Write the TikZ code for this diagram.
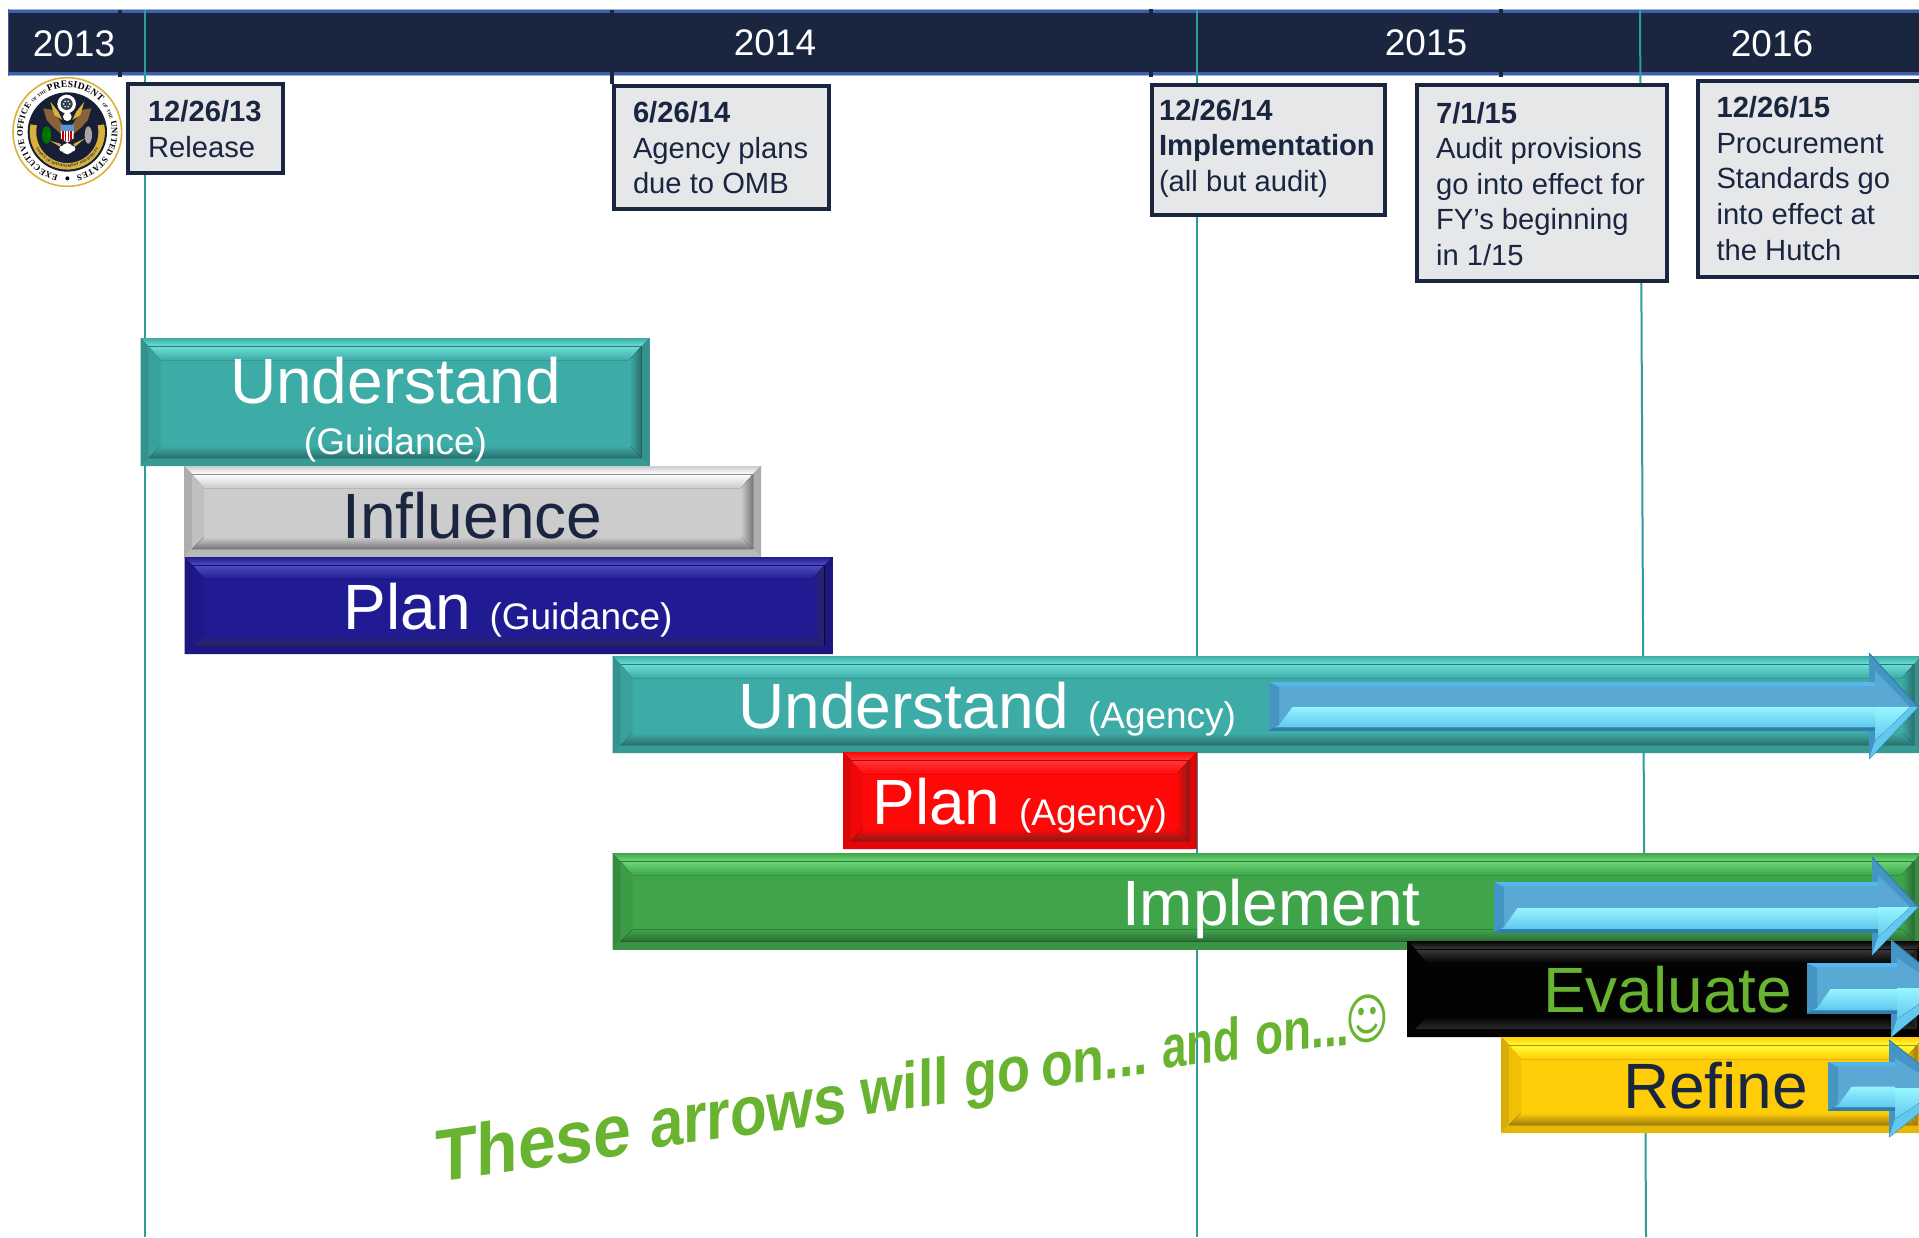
\documentclass[tikz,border=0pt]{standalone}
\usepackage{fontspec}
\setmainfont{Liberation Sans}
\newfontfamily\dejavu{DejaVu Sans}
\newfontfamily\sealfont{Liberation Serif}
\usetikzlibrary{decorations.text}
\definecolor{navy}{HTML}{1A2540}
\definecolor{hdrblue}{HTML}{3F5FA8}
\definecolor{hdrlight}{HTML}{9DB2DE}
\definecolor{tealline}{HTML}{2E9C9C}
\definecolor{boxfill}{HTML}{E6E7E9}
\definecolor{wavegreen}{HTML}{68B32F}
\definecolor{tealB}{HTML}{3DABA6}\definecolor{tealL}{HTML}{6ADFD8}\definecolor{tealD}{HTML}{2A6F6C}
\definecolor{grayB}{HTML}{CCCCCC}\definecolor{grayL}{HTML}{FFFFFF}\definecolor{grayD}{HTML}{777777}
\definecolor{blueB}{HTML}{201B93}\definecolor{blueL}{HTML}{4F4CC4}\definecolor{blueD}{HTML}{2A2560}
\definecolor{redB}{HTML}{FF0808}\definecolor{redL}{HTML}{FF3838}\definecolor{redD}{HTML}{8B1818}
\definecolor{greenB}{HTML}{40A54A}\definecolor{greenL}{HTML}{6CD878}\definecolor{greenD}{HTML}{2D6B38}
\definecolor{blackB}{HTML}{030303}\definecolor{blackL}{HTML}{3A3A3A}\definecolor{blackD}{HTML}{2A2A2A}
\definecolor{yellowB}{HTML}{FFCC08}\definecolor{yellowL}{HTML}{FFFF30}\definecolor{yellowD}{HTML}{9B7B10}
\definecolor{arrEdge}{HTML}{4494C4}\definecolor{arrMid}{HTML}{5AA9D5}\definecolor{arrBright}{HTML}{96F6FF}
\definecolor{arrLow}{HTML}{62C8F0}\definecolor{arrTop}{HTML}{55B8EC}\definecolor{arrDark}{HTML}{2F7FA8}
\definecolor{sealgold}{HTML}{D9B23C}
\definecolor{sealbrown}{HTML}{8A6238}
\pgfdeclareverticalshading{bluearrowshade}{100bp}{color(0bp)=(arrDark); color(25bp)=(arrDark); color(28bp)=(arrDark); color(28.5bp)=(arrLow); color(49.5bp)=(arrBright); color(50bp)=(arrMid); color(71bp)=(arrMid); color(71.5bp)=(arrTop); color(75bp)=(arrTop); color(100bp)=(arrTop)}
\tikzset{
  barbox/.style={rectangle,anchor=north west,inner sep=0pt,outer sep=0pt,draw=none},
  lbl/.style={anchor=base west,inner sep=0pt,outer sep=0pt},
  bigtxt/.style={lbl,font=\fontsize{64}{64}\selectfont},
  smalltxt/.style={lbl,font=\fontsize{37}{37}\selectfont},
  yeartxt/.style={anchor=base,inner sep=0pt,text=white,font=\fontsize{37}{37}\selectfont},
  datebox/.style={rectangle,anchor=north west,inner sep=0pt,outer sep=0pt,draw=navy,line width=4pt,fill=boxfill},
  datetxt/.style={anchor=north west,inner sep=0pt,outer sep=0pt,align=left,text=navy,font=\fontsize{29.2}{35.6}\selectfont},
  wavetxt/.style={anchor=base west,inner sep=0pt,outer sep=0pt,text=wavegreen,font=\fontsize{50}{50}\selectfont\bfseries},
  guide/.style={draw=tealline,line width=2pt},
  tick/.style={draw=navy,line width=4pt},
}
% name x1 y1 x2 y2 base light dark
\newcommand{\bevelbar}[8]{%
  \pgfmathsetlengthmacro{\barw}{(#4-#2)*1pt}\pgfmathsetlengthmacro{\barh}{(#5-#3)*1pt}%
  \node[barbox,fill=#6,minimum width=\barw,minimum height=\barh] (#1) at (#2,#3) {};
  \fill[top color=#6,bottom color=#7] (#2,#3) -- (#4,#3) -- (#4-8,#3+8) -- (#2+8,#3+8) -- cycle;
  \fill[#6!85!black] (#2,#3) -- (#2+8,#3+8) -- (#2+8,#5-8) -- (#2,#5) -- cycle;
  \fill[#6!85!black] (#4,#3) -- (#4-8,#3+8) -- (#4-8,#5-8) -- (#4,#5) -- cycle;
  \fill[#6!90!black] (#2,#5) -- (#2+8,#5-8) -- (#4-8,#5-8) -- (#4,#5) -- cycle;
  \fill[top color=#7,bottom color=#6] (#2+8,#3+8) -- (#4-8,#3+8) -- (#4-20,#3+22) -- (#2+20,#3+22) -- cycle;
  \fill[#6!94!black] (#2+8,#3+8) -- (#2+20,#3+22) -- (#2+20,#5-20) -- (#2+8,#5-8) -- cycle;
  \fill[left color=#6,right color=#8] (#4-8,#3+8) -- (#4-20,#3+22) -- (#4-20,#5-20) -- (#4-8,#5-8) -- cycle;
  \fill[top color=#6,bottom color=#8] (#2+8,#5-8) -- (#2+20,#5-20) -- (#4-20,#5-20) -- (#4-8,#5-8) -- cycle;
  \draw[#6!70!black,line width=.8pt] (#2+8,#3+8) -- (#4-8,#3+8);
}
% name x0 shafttop shaftbot headx headtop headbot tipx tipy
\newcommand{\bluearrow}[9]{%
  \coordinate (#1) at (#2,#3);
  \fill[arrEdge] (#5,#6) -- (#8,#9) -- (#5,#7) -- cycle;
  \draw[arrDark,line width=1pt] (#5,#6) -- (#8,#9) -- (#5,#7);
  \fill[arrLow] (#8,#9) -- (#5,#7) -- (#5+6,#7-18) -- (#8-8,#9) -- cycle;
  \fill[arrMid] (#5+6,#6+18) -- (#8-8,#9) -- (#5+6,#9) -- cycle;
  \fill[top color=arrBright,bottom color=arrLow] (#5+6,#9) -- (#8-8,#9) -- (#5+6,#7-18) -- cycle;
  \shade[shading=bluearrowshade] (#2,#3) rectangle (#5+6,#4);
  \fill[arrMid] (#2+10,#3+5) -- (#2+24,#3+5) -- (#2+24,#3*.5+#4*.5) -- (#2+10,#4-5) -- cycle;
  \fill[arrEdge] (#2,#3) -- (#2+10,#3+5) -- (#2+10,#4-5) -- (#2,#4) -- cycle;
}
% name x y widthsize heightsize slant text
\newcommand{\wavew}[7]{%
  \node[wavetxt,yslant=#6,xscale=#4/50,yscale=#5/50,transform shape] (#1) at (#2,#3) {#7};
}
\begin{document}
\begin{tikzpicture}[x=1pt,y=-1pt]
\useasboundingbox (0,0) rectangle (1919,1237);
\clip (0,0) rectangle (1919,1237);
\fill[white] (0,0) rectangle (1919,1237);

% header
\fill[navy] (8,9) rectangle (1925,75.5);
\draw[hdrblue,line width=3pt] (8,11) -- (1925,11);
\draw[hdrblue,line width=3pt] (8,73.5) -- (1925,73.5);
\draw[hdrlight,line width=1pt] (8,9) -- (1925,9);
\draw[hdrlight,line width=1pt] (8,75.5) -- (1925,75.5);
\draw[hdrblue,line width=1pt] (8,9) -- (8,75.5);
\coordinate (t1a) at (120,10); \coordinate (t1b) at (120,77);
\coordinate (t2a) at (612,10); \coordinate (t2b) at (612,84);
\coordinate (t3a) at (1150.6,9); \coordinate (t3b) at (1150.6,77);
\coordinate (t4a) at (1501,9); \coordinate (t4b) at (1501,77);
\draw[tick] (t1a) -- (t1b); \draw[tick] (t2a) -- (t2b);
\draw[tick] (t3a) -- (t3b); \draw[tick] (t4a) -- (t4b);

% guides
\coordinate (g1a) at (145,10); \coordinate (g1b) at (145,1237);
\coordinate (g2a) at (1196.5,10); \coordinate (g2b) at (1196.5,1237);
\coordinate (g3a) at (1640,10); \coordinate (g3b) at (1646,1237);
\draw[guide] (g1a) -- (g1b); \draw[guide] (g2a) -- (g2b); \draw[guide] (g3a) -- (g3b);

% years
\node[yeartxt] (y13) at (74,56) {2013};
\node[yeartxt] (y14) at (775,55) {2014};
\node[yeartxt] (y15) at (1426,55) {2015};
\node[yeartxt] (y16) at (1772,56) {2016};

% seal
\begin{scope}[shift={(5,70)},x=.3333pt,y=-.3333pt]
  \fill[white] (187,186) circle (165);
  \draw[sealgold,line width=1.6pt] (187,186) circle (163);
  \fill[navy!85!black] (187,186) circle (119);
  % banner
  \draw[sealgold,line width=6.5pt] (187,186) ++(192:103) arc (192:-12:103);
  % wings
  \fill[sealbrown] (115,115) -- (145,120) -- (172,165) -- (172,195) -- (145,172) -- (125,150) -- cycle;
  \fill[sealbrown] (259,115) -- (229,120) -- (202,165) -- (202,195) -- (229,172) -- (249,150) -- cycle;
  \fill[sealgold] (136,95) -- (148,135) -- (172,150) -- (160,125) -- cycle;
  \fill[sealgold] (238,95) -- (226,135) -- (202,150) -- (214,125) -- cycle;
  % crest
  \fill[white] (185,102) circle (28);
  \fill[navy!70!gray] (185,102) circle (18);
  \foreach \a in {0,60,...,300} {\fill[white] (185,102) ++(\a:9) circle (2.6);}
  % head and shield
  \fill[white] (187,140) circle (13);
  \fill[white] (168,165) -- (206,165) -- (206,205) -- (187,218) -- (168,205) -- cycle;
  \fill[cyan!60!blue!70!white] (168,165) rectangle (206,183);
  \foreach \xx in {172,180,188,196} {\fill[red!75!black] (\xx,183) rectangle (\xx+4.4,212);}
  % olive and arrows
  \fill[green!45!black] (125,195) ellipse (14 and 26);
  \fill[gray!70] (250,195) ellipse (11 and 26);
  \fill[sealgold] (135,212) -- (168,222) -- (165,230) -- cycle;
  \fill[sealgold] (240,205) -- (205,222) -- (210,230) -- cycle;
  % clouds
  \fill[white] (187,236) circle (17);
  \fill[white] (172,236) circle (9);
  \fill[white] (202,236) circle (9);
  \fill[black] (187,325) circle (6);
\end{scope}
\begin{scope}[shift={(67.3,131.7)},x=1pt,y=1pt]
  \path[decorate,decoration={text along path,text align=fit to path,
     text={|\fontsize{8.6}{8.6}\sealfont\bfseries|EXECUTIVE OFFICE |\fontsize{4.4}{4.4}\sealfont\bfseries|OF THE |\fontsize{9.6}{9.6}\sealfont\bfseries|PRESIDENT |\fontsize{4.4}{4.4}\sealfont\bfseries|OF THE |\fontsize{8.6}{8.6}\sealfont\bfseries|UNITED STATES}}]
     (258:44.5) arc (258:-78:44.5);
  \path[decorate,decoration={text along path,text align=center,
     text={|\fontsize{3.8}{3.8}\sealfont\bfseries\color{navy}|OFFICE OF MANAGEMENT AND BUDGET}}]
     (188:35.5) arc (188:352:35.5);
\end{scope}

% date boxes
\node[datebox,minimum width=155pt,minimum height=89pt] (b1) at (128,84) {};
\node[datetxt] (b1t) at (148,100.5) {\textbf{12/26/13}\\Release};
\node[datebox,minimum width=215pt,minimum height=123pt] (b2) at (614,86) {};
\node[datetxt] (b2t) at (633,101.5) {\textbf{6/26/14}\\Agency plans\\due to OMB};
\node[datebox,minimum width=233pt,minimum height=130pt] (b3) at (1151.6,85) {};
\node[datetxt] (b3t) at (1159,99) {\textbf{12/26/14}\\\textbf{Implementation}\\(all but audit)};
\node[datebox,minimum width=250pt,minimum height=196pt] (b4) at (1417,85) {};
\node[datetxt] (b4t) at (1436,102) {\textbf{7/1/15}\\Audit provisions\\go into effect for\\FY’s beginning\\in 1/15};
\node[datebox,minimum width=260pt,minimum height=196pt] (b5) at (1698,81) {};
\node[datetxt] (b5t) at (1716.5,96.5) {\textbf{12/26/15}\\Procurement\\Standards go\\into effect at\\the Hutch};

% bars
\bevelbar{barA}{140.5}{338}{649.5}{466}{tealB}{tealL}{tealD}
\bevelbar{barB}{184}{466}{761}{557}{grayB}{grayL}{grayD}
\bevelbar{barC}{184.5}{557}{832.5}{654}{blueB}{blueL}{blueD}
\bevelbar{barD}{612.5}{656}{1922}{753}{tealB}{tealL}{tealD}
\bevelbar{barE}{843}{752}{1197}{849}{redB}{redL}{redD}
\bevelbar{barF}{612.5}{853}{1922}{949.5}{greenB}{greenL}{greenD}
\bevelbar{barG}{1407}{941}{1925}{1037}{blackB}{blackL}{blackD}
\bevelbar{barH}{1501}{1037}{1925}{1133}{yellowB}{yellowL}{yellowD}

% bar labels
\node[bigtxt,anchor=base,text=white] (lA1) at (395.5,403) {Understand};
\node[smalltxt,anchor=base,text=white] (lA2) at (395.5,454) {(Guidance)};
\node[bigtxt,text=navy] (lB) at (342.5,538) {Influence};
\node[bigtxt,text=white] (lC1) at (343.5,629) {Plan};
\node[smalltxt,text=white] (lC2) at (489.5,629) {(Guidance)};
\node[bigtxt,text=white] (lD1) at (738.5,728) {Understand};
\node[smalltxt,text=white] (lD2) at (1088,728) {(Agency)};
\node[bigtxt,text=white] (lE1) at (872.5,824) {Plan};
\node[smalltxt,text=white] (lE2) at (1019,825) {(Agency)};
\node[bigtxt,text=white] (lF) at (1122,925) {Implement};
\node[bigtxt,text=wavegreen] (lG) at (1543,1012) {Evaluate};
\node[bigtxt,text=navy] (lH) at (1623,1108) {Refine};

% arrows
\bluearrow{arD}{1269}{682}{730}{1869}{653}{759}{1918}{707}
\bluearrow{arF}{1494}{882}{932}{1872}{857}{955}{1918}{907}
\bluearrow{arG}{1807}{963}{1013}{1891}{940}{1037}{1950}{988}
\bluearrow{arH}{1828}{1062}{1110}{1889}{1040}{1137}{1950}{1088}

% wave text
\wavew{w1}{435}{1182}{68}{74}{.14}{These}
\wavew{w2}{650}{1148}{60}{70}{.13}{arrows}
\wavew{w3}{860}{1115}{55}{66}{.13}{will}
\wavew{w4}{964}{1097}{54}{64}{.12}{go}
\wavew{w5}{1041}{1087}{52}{62}{.12}{on...}
\wavew{w6}{1162}{1068}{44}{60}{.11}{and}
\wavew{w7}{1255}{1055}{46}{58}{.11}{on...}
\node[anchor=center,inner sep=0pt,text=wavegreen,font=\fontsize{42}{42}\dejavu,yslant=.08,yscale=1.3,transform shape] (smile) at (1367,1019) {☺};
\end{tikzpicture}
\end{document}
